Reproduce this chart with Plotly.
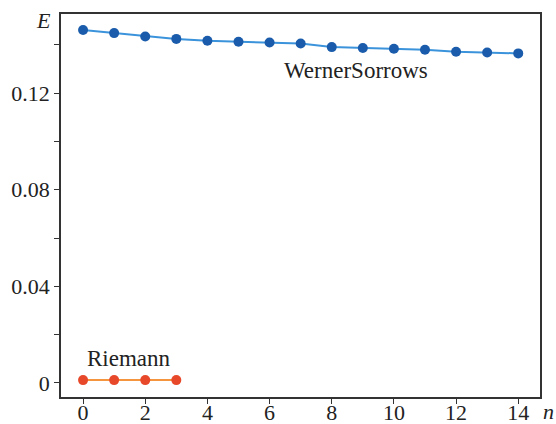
import plotly.graph_objects as go

# Energy E per step n for the two schemes
n_werner = list(range(15))
e_werner = [0.1461, 0.1448, 0.1434, 0.1424, 0.1416, 0.1412, 0.1409, 0.1405,
            0.1390, 0.1386, 0.1383, 0.1379, 0.1371, 0.1368, 0.1364]
n_riemann = [0, 1, 2, 3]
e_riemann = [0.0012, 0.0012, 0.0012, 0.0012]

SERIF = "Liberation Serif, Times New Roman, serif"

fig = go.Figure()
fig.add_trace(
    go.Scatter(
        x=n_werner,
        y=e_werner,
        mode="lines+markers",
        line=dict(color="#3b93db", width=2),
        marker=dict(color="#1a5cab", size=10),
        showlegend=False,
    )
)
fig.add_trace(
    go.Scatter(
        x=n_riemann,
        y=e_riemann,
        mode="lines+markers",
        line=dict(color="#f5953d", width=2),
        marker=dict(color="#e8482a", size=10),
        showlegend=False,
    )
)

fig.add_annotation(x=8.79, y=0.1295, text="WernerSorrows", showarrow=False,
                   font=dict(family=SERIF, size=23, color="#222"))
fig.add_annotation(x=1.48, y=0.0103, text="Riemann", showarrow=False,
                   font=dict(family=SERIF, size=23, color="#222"))
# axis names
fig.add_annotation(xref="paper", yref="paper", x=0, y=1.0, text="<i>E</i>",
                   showarrow=False, xanchor="center", yanchor="middle", xshift=-18, yshift=-6,
                   font=dict(family=SERIF, size=22, color="#222"))
fig.add_annotation(xref="paper", yref="paper", x=1.0, y=0.0, text="<i>n</i>",
                   showarrow=False, xanchor="center", yanchor="middle", xshift=8, yshift=-14,
                   font=dict(family=SERIF, size=22, color="#222"))

fig.update_layout(
    width=556,
    height=424,
    margin=dict(l=61, r=16, t=14, b=27),
    paper_bgcolor="white",
    plot_bgcolor="white",
    font=dict(family=SERIF, size=22, color="#222"),
)
fig.update_xaxes(
    range=[-0.71, 14.7],
    tick0=0,
    dtick=2,
    ticks="outside",
    ticklen=5,
    tickcolor="#333",
    ticklabelstandoff=-10,
    showline=True,
    linecolor="#333",
    linewidth=1.5,
    mirror=True,
    showgrid=False,
    zeroline=False,
    automargin=False,
)
fig.update_yaxes(
    range=[-0.0058, 0.1527],
    tick0=0,
    dtick=0.04,
    ticks="outside",
    ticklen=5,
    tickcolor="#333",
    minor=dict(dtick=0.02, ticks="outside", ticklen=5, tickcolor="#333"),
    showline=True,
    linecolor="#333",
    linewidth=1.5,
    mirror=True,
    showgrid=False,
    zeroline=False,
    automargin=False,
)

# drop the browser's default body margin so the figure fills the window
fig.write_html(
    "out.html",
    config={"displayModeBar": False},
    post_script="document.body.style.margin = '0';",
)
